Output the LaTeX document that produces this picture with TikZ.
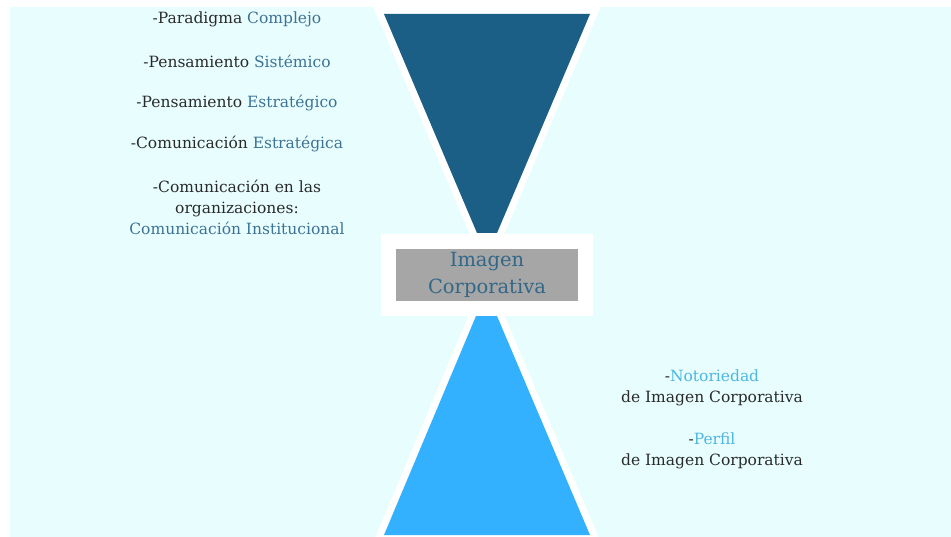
\documentclass[tikz,border=0pt]{standalone}
\usepackage{fontspec}
\setmainfont{DejaVu Serif}
\usetikzlibrary{positioning}
\definecolor{bgcyan}{HTML}{E8FEFE}
\definecolor{topblue}{HTML}{1B5E86}
\definecolor{lowblue}{HTML}{33B0FE}
\definecolor{txtdark}{HTML}{2A2A2A}
\definecolor{keyblue}{HTML}{3D7294}
\definecolor{keylight}{HTML}{4DB6E2}
\definecolor{boxgray}{HTML}{A6A6A6}
\definecolor{titleblue}{HTML}{336788}

\begin{document}
\begin{tikzpicture}[x=1pt,y=-1pt,
  item/.style={text=txtdark,font=\fontsize{15.5}{21}\selectfont,align=center,inner sep=0pt},
  wedge/.style={preaction={draw=white,line width=14pt,line join=miter}}]
\useasboundingbox (0,0) rectangle (951,537);
\fill[white] (0,0) rectangle (951,537);
\fill[bgcyan] (10,7) rectangle (951,537);
% funnels
\fill[wedge,topblue] (384,14) -- (590,14) -- (497,233) -- (477,233) -- cycle;
\fill[wedge,lowblue] (476,316) -- (497,316) -- (590,535) -- (384,535) -- cycle;
% centre box
\node[fill=white,minimum width=212pt,minimum height=82pt] (frame) at (487,275) {};
\node[fill=boxgray,minimum width=182pt,minimum height=52pt,inner sep=0pt,
      text=titleblue,font=\fontsize{19.5}{27}\selectfont,align=center] (core) at (487,275) {Imagen\\Corporativa};
% left list
\node[item] (paradigma) at (237,19) {-Paradigma {\color{keyblue}Complejo}};
\node[item] (sistemico) at (237,61) {-Pensamiento {\color{keyblue}Sistémico}};
\node[item] (estrategico) at (237,103) {-Pensamiento {\color{keyblue}Estratégico}};
\node[item] (comest) at (237,144) {-Comunicación {\color{keyblue}Estratégica}};
\node[item] (cominst) at (237,207) {-Comunicación en las\\organizaciones:\\{\color{keyblue}Comunicación Institucional}};
% right list
\node[item] (notoriedad) at (712,388) {-{\color{keylight}Notoriedad}\\de Imagen Corporativa};
\node[item] (perfil) at (712,451) {-{\color{keylight}Perfil}\\de Imagen Corporativa};
\end{tikzpicture}
\end{document}
